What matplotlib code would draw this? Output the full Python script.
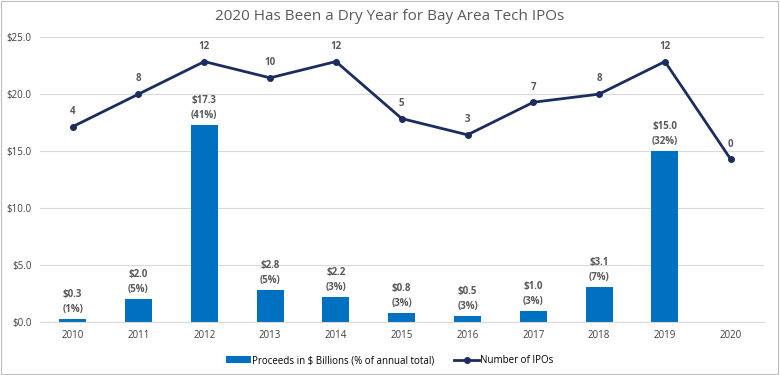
import matplotlib
matplotlib.use("Agg")
import matplotlib.pyplot as plt
from matplotlib.ticker import FuncFormatter
from matplotlib.patches import Rectangle

# data
years = ["2010", "2011", "2012", "2013", "2014", "2015", "2016", "2017", "2018", "2019", "2020"]
proceeds = [0.3, 2.0, 17.3, 2.8, 2.2, 0.8, 0.5, 1.0, 3.1, 15.0, 0.0]
pct_total = [1, 5, 41, 5, 3, 3, 3, 3, 7, 32, None]
num_ipos = [4, 8, 12, 10, 12, 5, 3, 7, 8, 12, 0]

bar_color = "#0070C0"
line_color = "#1C2C60"
text_color = "#595959"
grid_color = "#D9D9D9"

plt.rcParams["font.family"] = ["Open Sans", "DejaVu Sans"]

fig = plt.figure(figsize=(7.8, 3.75), dpi=100)
ax = fig.add_axes([0.051, 0.141, 0.928, 0.76])
x = list(range(len(years)))

ax.bar(x, proceeds, width=0.41, color=bar_color, zorder=2,
       label="Proceeds in $ Billions (% of annual total)")
for xi, v, p in zip(x, proceeds, pct_total):
    if p is None:
        continue
    ax.annotate("${:.1f}\n({}%)".format(v, p), (xi, v), xytext=(0, 3),
                textcoords="offset points", ha="center", va="bottom",
                fontsize=7, fontweight="bold", color=text_color, linespacing=1.5)

ax.set_ylim(0, 25)
ax.set_xlim(-0.5, len(years) - 0.5)
ax.set_yticks([0, 5, 10, 15, 20, 25])
ax.yaxis.set_major_formatter(FuncFormatter(lambda v, pos: "${:.1f}".format(v)))
ax.set_xticks(x)
ax.set_xticklabels(years)
ax.tick_params(axis="both", length=0, labelsize=7, labelcolor="#404040", pad=6)
ax.grid(axis="y", color=grid_color, linewidth=0.8, zorder=0)
for s in ["top", "right", "left"]:
    ax.spines[s].set_visible(False)
ax.spines["bottom"].set_color(grid_color)

ax2 = ax.twinx()
ax2.plot(x, num_ipos, color=line_color, linewidth=2, marker="o", markersize=4,
         label="Number of IPOs", zorder=3)
for xi, n in zip(x, num_ipos):
    ax2.annotate(str(n), (xi, n), xytext=(0, 7), textcoords="offset points",
                 ha="center", va="bottom", fontsize=7, fontweight="bold", color=text_color)
ax2.set_ylim(-20, 15)
ax2.set_yticks([])
for s in ["top", "right", "left", "bottom"]:
    ax2.spines[s].set_visible(False)

fig.suptitle("2020 Has Been a Dry Year for Bay Area Tech IPOs", y=0.975,
             fontsize=11, color=text_color)

h1, l1 = ax.get_legend_handles_labels()
h2, l2 = ax2.get_legend_handles_labels()
fig.legend(h1 + h2, l1 + l2, loc="lower center", bbox_to_anchor=(0.5, 0.0),
           ncol=2, frameon=False, fontsize=7, handlelength=2.6, handletextpad=0.1,
           columnspacing=2.0)

# thin frame round the whole chart
fig.patches.append(Rectangle((0.001, 0.002), 0.997, 0.995, transform=fig.transFigure,
                             fill=False, edgecolor="#BFBFBF", linewidth=0.8))

fig.savefig("out.png", dpi=100)
